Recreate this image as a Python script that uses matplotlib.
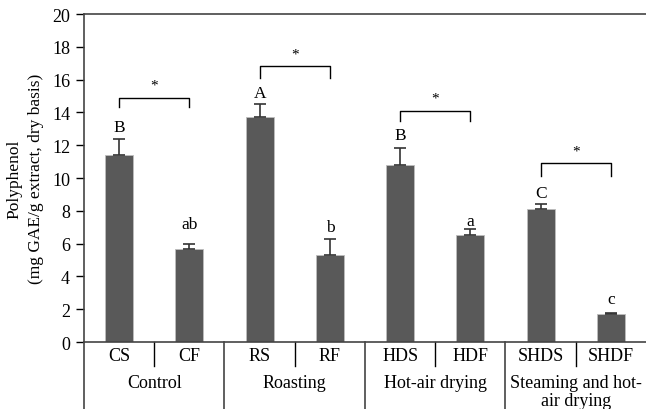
import matplotlib.pyplot as plt
import numpy as np

plt.rcParams['font.family'] = ['Liberation Serif', 'DejaVu Serif']

samples = ["CS", "CF", "RS", "RF", "HDS", "HDF", "SHDS", "SHDF"]
groups = ["Control", "Roasting", "Hot-air drying", "Steaming and hot-\nair drying"]
values = [11.4, 5.7, 13.7, 5.3, 10.8, 6.5, 8.1, 1.7]
errors = [1.0, 0.3, 0.8, 1.0, 1.0, 0.4, 0.3, 0.05]
letters = ["B", "ab", "A", "b", "B", "a", "C", "c"]
letter_y = [13.1, 7.2, 15.2, 7.0, 12.6, 7.4, 9.1, 2.6]
# significance brackets: (left bar, right bar, top, leg bottom)
brackets = [(0, 1, 14.9, 14.3), (2, 3, 16.8, 16.1), (4, 5, 14.1, 13.5), (6, 7, 10.9, 10.1)]

fig = plt.figure(figsize=(6.46, 4.10), dpi=100)
ax = fig.add_axes([0.130, 0.1634, 0.870, 0.800])

x = np.arange(len(samples))
ax.bar(x, values, width=0.4, color="#595959", edgecolor="#bdbdbd", linewidth=0.6, zorder=2)
ax.errorbar(x, values, yerr=[np.zeros(len(errors)), errors], fmt="none",
            ecolor="#333333", elinewidth=1.2, capsize=4, capthick=1.2, zorder=3)

for xi, lab, ly in zip(x, letters, letter_y):
    ax.text(xi, ly, lab, ha="center", va="center", fontsize=12.5)

for a, b, top, leg in brackets:
    ax.plot([a, a, b, b], [leg, top, top, leg], color="black", lw=1)
    ax.text((a + b) / 2, top + 0.75, "*", ha="center", va="center", fontsize=11)

ax.set_xlim(-0.5, 7.5)
ax.set_ylim(0, 20)
ax.set_yticks(np.arange(0, 21, 2))
ax.set_xticks([])
ax.tick_params(axis="y", labelsize=13, length=6, direction="out", width=1, pad=4)
ax.set_ylabel("Polyphenol\n(mg GAE/g extract, dry basis)", fontsize=12.5, linespacing=1.45, labelpad=6)

for side in ["left", "top", "bottom"]:
    ax.spines[side].set_color("#444444")
    ax.spines[side].set_linewidth(1.2)
ax.spines["right"].set_visible(False)

# category table below the axis
for xi, s in zip(x, samples):
    ax.text(xi, -0.85, s, ha="center", va="center", fontsize=13, clip_on=False)
for sep in [0.5, 2.5, 4.5, 6.5]:
    ax.plot([sep, sep], [0, -1.45], color="black", lw=1, clip_on=False)
for sep in [-0.5, 1.5, 3.5, 5.5]:
    ax.plot([sep, sep], [0, -4.2], color="#444444", lw=1.2, clip_on=False)
for gi, g in enumerate(groups):
    ax.text(2 * gi + 0.5, -1.95, g, ha="center", va="top", fontsize=13,
            linespacing=1.1, clip_on=False)

fig.savefig("out.png", dpi=100)
